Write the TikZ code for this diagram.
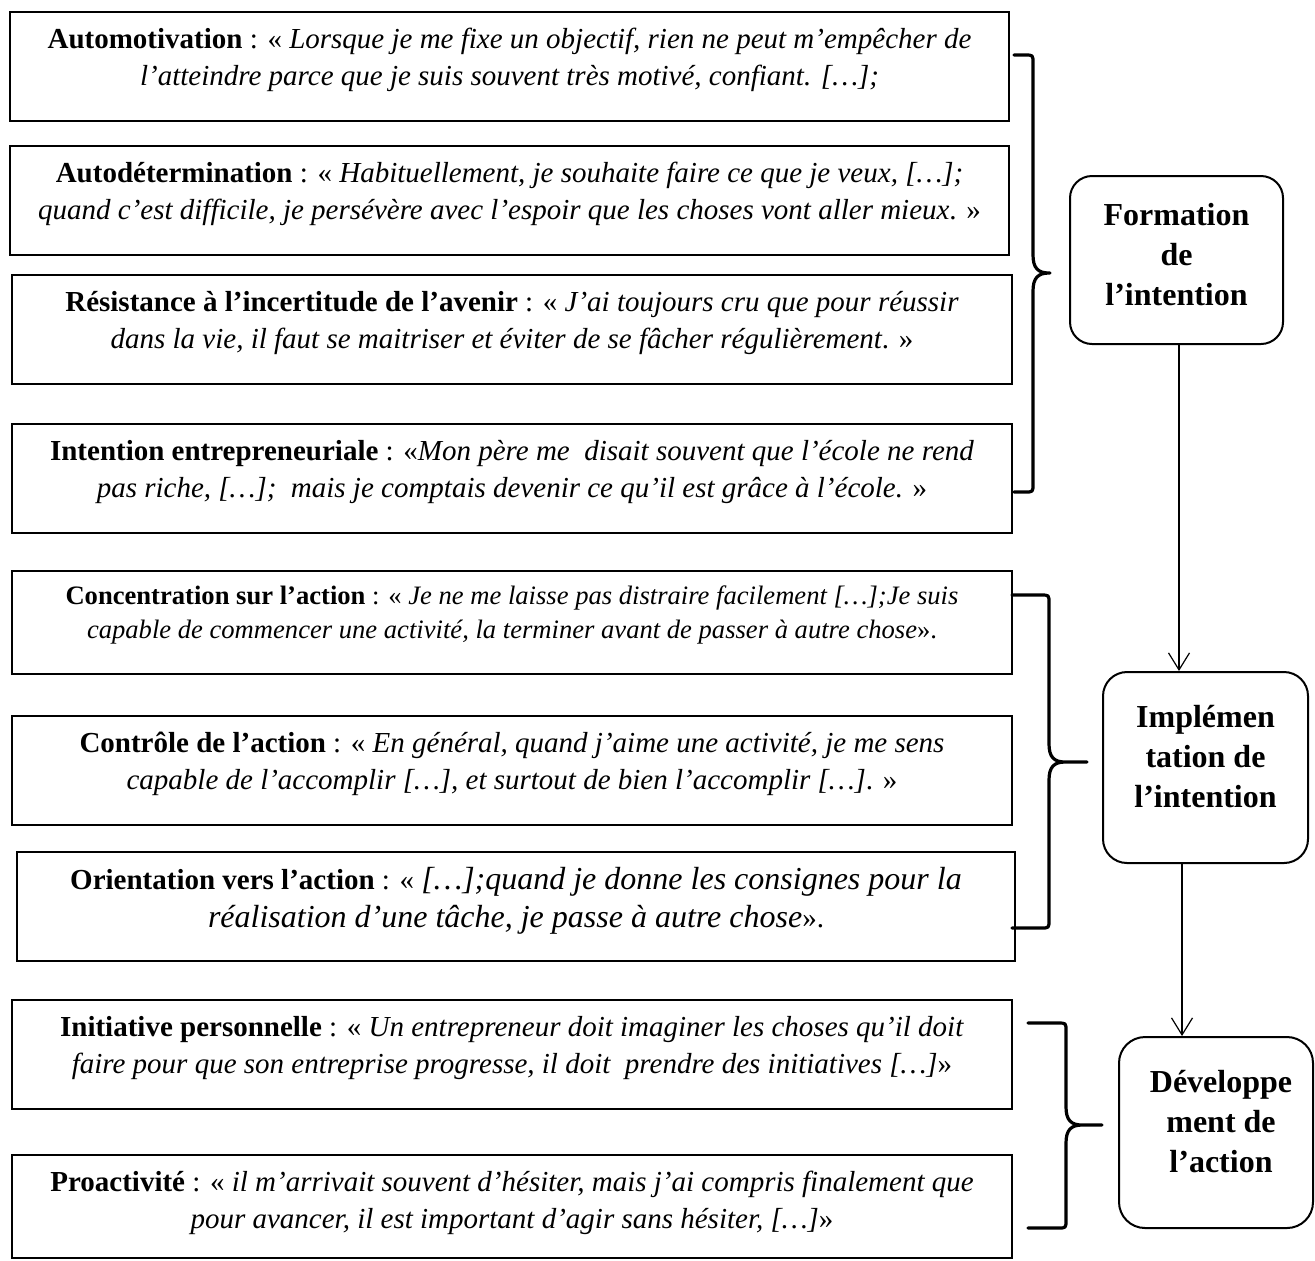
\documentclass[tikz,border=0pt]{standalone}
\usepackage{fontspec}
\setmainfont{Liberation Serif}
\usetikzlibrary{fit,arrows.meta}
% x0 xv xt ytop ymid ybot  (px units, y downwards)
\newcommand\mybracepath[6]{%
  \draw[bracestyle] (#1,#4) -- ({#2-8},#4) .. controls (#2,#4) .. (#2,{#4+8})
    -- (#2,{#5-18}) .. controls (#2,{#5-5}) and ({#2+5},#5) .. ({#2+16},#5) -- (#3,#5)
    ({#2+16},#5) .. controls ({#2+5},#5) and (#2,{#5+5}) .. (#2,{#5+18})
    -- (#2,{#6-8}) .. controls (#2,#6) .. ({#2-8},#6) -- (#1,#6);}
\newcommand\bigit[1]{{\fontsize{16}{19}\selectfont\itshape #1}}
\begin{document}
\begin{tikzpicture}[x=0.5pt,y=-0.5pt,
  qbox/.style={draw,line width=1.3pt,inner sep=0pt},
  qtext/.style={font=\fontsize{14.5}{18.5}\selectfont,align=center,inner sep=0pt,anchor=north},
  qsmall/.style={font=\fontsize{13.3}{17}\selectfont,align=center,inner sep=0pt,anchor=north},
  qbig/.style={font=\fontsize{14.5}{19}\selectfont,align=center,inner sep=0pt,anchor=north},
  rbox/.style={draw,line width=1pt,rounded corners=11pt,inner sep=0pt},
  ttext/.style={font=\fontsize{16}{20}\selectfont\bfseries,align=center,inner sep=0pt},
  conn/.style={line width=0.6pt,-{Straight Barb[length=8.5pt,width=10.5pt,line width=0.6pt]}},
  bracestyle/.style={line width=1.6pt,line join=round,line cap=round}]
\useasboundingbox[fill=white] (0,0) rectangle (1315,1260);

% left boxes
\node[qbox,fit={(10,12)(1009,121)}] (b1) {};
\node[qbox,fit={(10,146)(1009,255)}] (b2) {};
\node[qbox,fit={(12,275)(1012,384)}] (b3) {};
\node[qbox,fit={(12,424)(1012,533)}] (b4) {};
\node[qbox,fit={(12,571)(1012,674)}] (b5) {};
\node[qbox,fit={(12,716)(1012,825)}] (b6) {};
\node[qbox,fit={(17,852)(1015,961)}] (b7) {};
\node[qbox,fit={(12,1000)(1012,1109)}] (b8) {};
\node[qbox,fit={(12,1155)(1012,1258)}] (b9) {};

\node[qtext] (t1) at ([yshift=-5.5pt]b1.north) {\strut\textbf{Automotivation} : « \textit{Lorsque je me fixe un objectif, rien ne peut m’empêcher de}\\\textit{l’atteindre parce que je suis souvent très motivé, confiant. […];}};
\node[qtext] (t2) at ([yshift=-5.5pt]b2.north) {\strut\textbf{Autodétermination} : « \textit{Habituellement, je souhaite faire ce que je veux, […];}\\\textit{quand c’est difficile, je persévère avec l’espoir que les choses vont aller mieux}. »};
\node[qtext] (t3) at ([yshift=-5.5pt]b3.north) {\strut\textbf{Résistance à l’incertitude de l’avenir} : « \textit{J’ai toujours cru que pour réussir}\\\textit{dans la vie, il faut se maitriser et éviter de se fâcher régulièrement}. »};
\node[qtext] (t4) at ([yshift=-5.5pt]b4.north) {\strut\textbf{Intention entrepreneuriale} : «\textit{Mon père me\ \ disait souvent que l’école ne rend}\\\textit{pas riche, […];\ \ mais je comptais devenir ce qu’il est grâce à l’école.} »};
\node[qsmall] (t5) at ([yshift=-5.5pt]b5.north) {\strut\textbf{Concentration sur l’action} : « \textit{Je ne me laisse pas distraire facilement […];Je suis}\\\textit{capable de commencer une activité, la terminer avant de passer à autre chose}».};
\node[qtext] (t6) at ([yshift=-5.5pt]b6.north) {\strut\textbf{Contrôle de l’action} : « \textit{En général, quand j’aime une activité, je me sens}\\\textit{capable de l’accomplir […], et surtout de bien l’accomplir […]}. »};
\node[qbig] (t7) at ([yshift=-5.7pt]b7.north) {\strut\textbf{Orientation vers l’action} : « \bigit{[…];quand je donne les consignes pour la}\\\bigit{réalisation d’une tâche, je passe à autre chose}».};
\node[qtext] (t8) at ([yshift=-5.5pt]b8.north) {\strut\textbf{Initiative personnelle} : « \textit{Un entrepreneur doit imaginer les choses qu’il doit}\\\textit{faire pour que son entreprise progresse, il doit\ \ prendre des initiatives […]}»};
\node[qtext] (t9) at ([yshift=-5.5pt]b9.north) {\strut\textbf{Proactivité} : « \textit{il m’arrivait souvent d’hésiter, mais j’ai compris finalement que}\\\textit{pour avancer, il est important d’agir sans hésiter, […]}»};

% right rounded boxes
\node[rbox,fit={(1070,176)(1283,344)}] (f1) {};
\node[rbox,rounded corners=12pt,fit={(1103,672)(1308,863)}] (f2) {};
\node[rbox,rounded corners=13pt,fit={(1119,1037)(1313,1228)}] (f3) {};
\node[ttext] (f1t) at ([yshift=1.5pt]f1.center) {\strut Formation\\de\\l’intention\strut};
\node[ttext] (f2t) at ([yshift=4.25pt]f2.center) {\strut Implémen\\tation de\\l’intention\strut};
\node[ttext] (f3t) at ([xshift=2.5pt,yshift=4.25pt]f3.center) {\strut Développe\\ment de\\l’action\strut};

% connectors
\draw[conn] ([xshift=1.25pt]f1.south) -- ([xshift=1.25pt]f1.south |- f2.north);
\draw[conn] ([xshift=-11.75pt]f2.south) -- ([xshift=-11.75pt]f2.south |- f3.north);

% braces
\mybracepath{1014}{1033}{1050}{55}{273}{492}
\mybracepath{1012}{1049}{1087}{595}{762}{928}
\mybracepath{1028}{1066}{1102}{1023}{1125}{1228}
\end{tikzpicture}
\end{document}
